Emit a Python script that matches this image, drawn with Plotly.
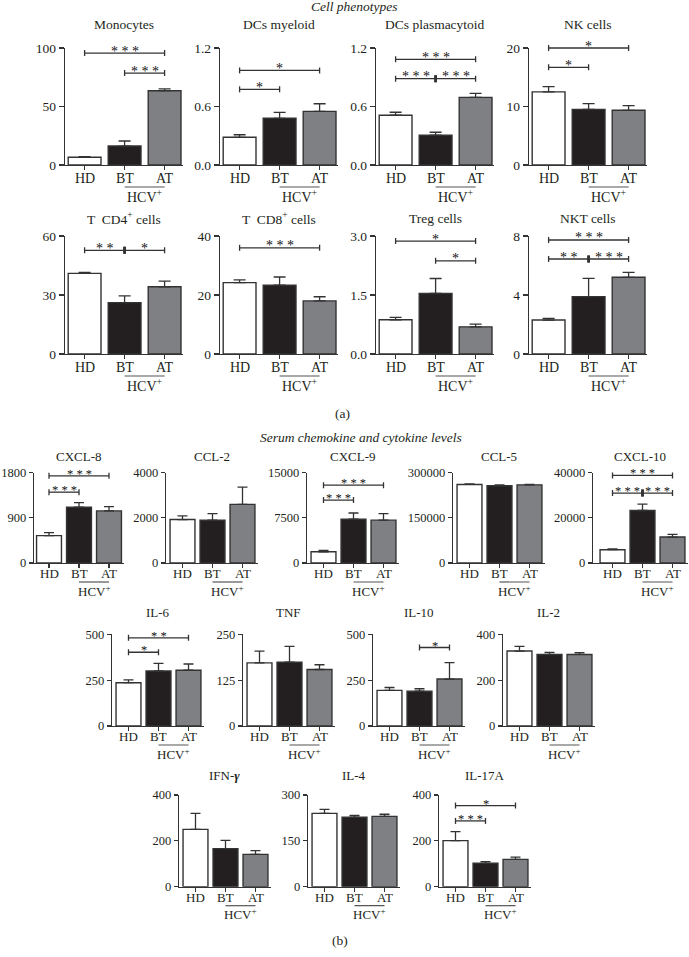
import plotly.graph_objects as go

W, H = 689, 957
FONT = "Liberation Serif"
INK = "#333333"
TXT = "#231f20"
BAR_COLORS = ["#ffffff", "#231f20", "#7f8083"]
groups = ["HD", "BT", "AT"]

# ---------------- (a) Cell phenotypes ----------------
monocytes = [6.6, 16.2, 63.5]
monocytes_err = [0.5, 4.3, 1.5]
monocytes_sig = [(0, 2, 95.7, "***"), (1, 2, 78.6, "***")]

dc_myeloid = [0.284, 0.479, 0.55]
dc_myeloid_err = [0.026, 0.061, 0.078]
dc_myeloid_sig = [(0, 2, 0.97, "*"), (0, 1, 0.776, "*")]

dc_plasma = [0.51, 0.305, 0.694]
dc_plasma_err = [0.031, 0.031, 0.041]
dc_plasma_sig = [(0, 2, 1.084, "***"), (0, 1, 0.885, "***"), (1, 2, 0.885, "***")]

nk = [12.5, 9.5, 9.35]
nk_err = [0.9, 1.0, 0.8]
nk_sig = [(0, 2, 20.0, "*"), (0, 1, 16.7, "*")]

cd4 = [41.0, 26.1, 34.2]
cd4_err = [0.5, 3.5, 2.9]
cd4_sig = [(0, 1, 52.7, "**"), (1, 2, 52.7, "*")]

cd8 = [24.2, 23.3, 18.0]
cd8_err = [0.9, 2.8, 1.4]
cd8_sig = [(0, 2, 36.0, "***")]

treg = [0.87, 1.54, 0.69]
treg_err = [0.06, 0.38, 0.07]
treg_sig = [(0, 2, 2.87, "*"), (1, 2, 2.37, "*")]

nkt = [2.3, 3.89, 5.2]
nkt_err = [0.12, 1.24, 0.34]
nkt_sig = [(0, 2, 7.73, "***"), (0, 1, 6.44, "**"), (1, 2, 6.44, "***")]

# ---------------- (b) Serum chemokines / cytokines ----------------
cxcl8 = [544, 1110, 1036]
cxcl8_err = [60, 92, 86]
cxcl8_sig = [(0, 2, 1734, "***"), (0, 1, 1409, "***")]

ccl2 = [1921, 1890, 2593]
ccl2_err = [158, 295, 761]
ccl2_sig = []

cxcl9 = [1863, 7250, 7100]
cxcl9_err = [227, 1040, 1100]
cxcl9_sig = [(0, 2, 12900, "***"), (0, 1, 10430, "***")]

ccl5 = [260400, 256000, 259000]
ccl5_err = [1500, 2500, 1500]
ccl5_sig = []

cxcl10 = [5870, 23200, 11480]
cxcl10_err = [310, 2800, 1150]
cxcl10_sig = [(0, 2, 38700, "***"), (0, 1, 30900, "***"), (1, 2, 30900, "***")]

il6 = [236, 300, 304]
il6_err = [15, 42, 34]
il6_sig = [(0, 2, 481, "**"), (0, 1, 402, "*")]

tnf = [172, 174, 154]
tnf_err = [32, 43, 13]
tnf_sig = []

il10 = [194, 190, 256]
il10_err = [16, 13, 90]
il10_sig = [(1, 2, 428, "*")]

il2 = [327, 312, 312]
il2_err = [20, 9, 8]
il2_sig = []

ifng = [250, 166, 141]
ifng_err = [70, 36, 16]
ifng_sig = []

il4 = [240, 227, 230]
il4_err = [13, 6, 7]
il4_sig = []

il17a = [201, 102, 119]
il17a_err = [39, 7, 10]
il17a_sig = [(0, 2, 354, "*"), (0, 1, 287, "***")]

# y-axis ticks (value, label)
ticks_monocytes = ([0, 50, 100], ["0", "50", "100"])
ticks_dc = ([0, 0.6, 1.2], ["0.0", "0.6", "1.2"])
ticks_nk = ([0, 10, 20], ["0", "10", "20"])
ticks_cd4 = ([0, 30, 60], ["0", "30", "60"])
ticks_cd8 = ([0, 20, 40], ["0", "20", "40"])
ticks_treg = ([0, 1.5, 3.0], ["0.0", "1.5", "3.0"])
ticks_nkt = ([0, 4, 8], ["0", "4", "8"])
ticks_cxcl8 = ([0, 900, 1800], ["0", "900", "1800"])
ticks_ccl2 = ([0, 2000, 4000], ["0", "2000", "4000"])
ticks_cxcl9 = ([0, 7500, 15000], ["0", "7500", "15000"])
ticks_ccl5 = ([0, 150000, 300000], ["0", "150000", "300000"])
ticks_cxcl10 = ([0, 20000, 40000], ["0", "20000", "40000"])
ticks_il6 = ([0, 250, 500], ["0", "250", "500"])
ticks_tnf = ([0, 125, 250], ["0", "125", "250"])
ticks_il10 = ([0, 250, 500], ["0", "250", "500"])
ticks_il2 = ([0, 200, 400], ["0", "200", "400"])
ticks_ifng = ([0, 200, 400], ["0", "200", "400"])
ticks_il4 = ([0, 150, 300], ["0", "150", "300"])
ticks_il17a = ([0, 200, 400], ["0", "200", "400"])

# ---------------- layout geometry (pixels) ----------------
# rows: (top_px, bottom_px, title_px)
ROW_A1 = (48, 165, 25)
ROW_A2 = (236, 354, 219)
ROW_B1 = (472.5, 563, 456)
ROW_B2 = (634.3, 726, 612)
ROW_B3 = (795, 886.7, 775)

A = dict(step=40, left=-0.49, right=2.47, bw=0.82, tick=13.5, ticklen=5, cat=14, title=13.5, star=14,
         capw=6, cat_dy=13.5, lab_dy=22, hcv_dy=30.5, star_dy=2)
B = dict(step=30, left=-0.55, right=2.5, bw=0.83, tick=12.5, ticklen=4, cat=13, title=13, star=12.5,
         capw=5, cat_dy=10.5, lab_dy=19, hcv_dy=27.5, star_dy=2)

panels = [
    ("Monocytes", monocytes, monocytes_err, monocytes_sig, ticks_monocytes, 65, ROW_A1, A, None),
    ("DCs myeloid", dc_myeloid, dc_myeloid_err, dc_myeloid_sig, ticks_dc, 220, ROW_A1, A, None),
    ("DCs plasmacytoid", dc_plasma, dc_plasma_err, dc_plasma_sig, ticks_dc, 376, ROW_A1, A, None),
    ("NK cells", nk, nk_err, nk_sig, ticks_nk, 529, ROW_A1, A, None),
    ("T  CD4<sup>+</sup> cells", cd4, cd4_err, cd4_sig, ticks_cd4, 65, ROW_A2, A, None),
    ("T  CD8<sup>+</sup> cells", cd8, cd8_err, cd8_sig, ticks_cd8, 220, ROW_A2, A, None),
    ("Treg cells", treg, treg_err, treg_sig, ticks_treg, 376, ROW_A2, A, None),
    ("NKT cells", nkt, nkt_err, nkt_sig, ticks_nkt, 529, ROW_A2, A, None),
    ("CXCL-8", cxcl8, cxcl8_err, cxcl8_sig, ticks_cxcl8, 34, ROW_B1, B, -0.5),
    ("CCL-2", ccl2, ccl2_err, ccl2_sig, ticks_ccl2, 166, ROW_B1, B, None),
    ("CXCL-9", cxcl9, cxcl9_err, cxcl9_sig, ticks_cxcl9, 307, ROW_B1, B, None),
    ("CCL-5", ccl5, ccl5_err, ccl5_sig, ticks_ccl5, 453, ROW_B1, B, None),
    ("CXCL-10", cxcl10, cxcl10_err, cxcl10_sig, ticks_cxcl10, 593, ROW_B1, B, -0.65),
    ("IL-6", il6, il6_err, il6_sig, ticks_il6, 112, ROW_B2, B, None),
    ("TNF", tnf, tnf_err, tnf_sig, ticks_tnf, 243, ROW_B2, B, None),
    ("IL-10", il10, il10_err, il10_sig, ticks_il10, 373, ROW_B2, B, None),
    ("IL-2", il2, il2_err, il2_sig, ticks_il2, 503, ROW_B2, B, None),
    ("IFN-<b><i>γ</i></b>", ifng, ifng_err, ifng_sig, ticks_ifng, 179, ROW_B3, B, None),
    ("IL-4", il4, il4_err, il4_sig, ticks_il4, 308, ROW_B3, B, None),
    ("IL-17A", il17a, il17a_err, il17a_sig, ticks_il17a, 439, ROW_B3, B, None),
]

fig = go.Figure()
layout = dict(
    width=W, height=H, margin=dict(l=0, r=0, t=0, b=0, autoexpand=False),
    paper_bgcolor="white", plot_bgcolor="white", showlegend=False,
    font=dict(family=FONT, color=TXT),
)
shapes, annotations = [], []

for k, (title, vals, errs, sigs, (tv, tt), axpx, row, S, left) in enumerate(panels, start=1):
    xa = "x" if k == 1 else f"x{k}"
    ya = "y" if k == 1 else f"y{k}"
    xl = S["left"] if left is None else left
    wpx = (S["right"] - xl) * S["step"]
    top_px, bot_px, title_px = row
    ymax = tv[-1]

    fig.add_trace(go.Bar(
        x=[0, 1, 2], y=vals, width=S["bw"],
        marker=dict(color=BAR_COLORS, line=dict(color=INK, width=1.4)),
        error_y=dict(type="data", array=errs, arrayminus=[0, 0, 0], symmetric=False,
                     color=INK, thickness=1.3, width=S["capw"]),
        xaxis=xa, yaxis=ya, hoverinfo="skip",
    ))

    layout["xaxis" if k == 1 else f"xaxis{k}"] = dict(
        domain=[axpx / W, (axpx + wpx) / W], anchor=ya, range=[xl, S["right"]],
        tickmode="array", tickvals=[0, 1, 2], showticklabels=False, automargin=False,
        showline=True, linecolor=INK, linewidth=1.3, ticks="outside", ticklen=4,
        tickwidth=1.2, tickcolor=INK, showgrid=False, zeroline=False, fixedrange=True,
    )
    layout["yaxis" if k == 1 else f"yaxis{k}"] = dict(
        domain=[1 - bot_px / H, 1 - top_px / H], anchor=xa, range=[0, ymax],
        tickmode="array", tickvals=tv, ticktext=tt, automargin=False,
        showline=True, linecolor=INK, linewidth=1.3, ticks="outside", ticklen=S["ticklen"],
        tickwidth=1.2, tickcolor=INK, showgrid=False, zeroline=False,
        tickfont=dict(family=FONT, size=S["tick"], color=TXT), fixedrange=True,
    )

    # category labels
    for ci, g in enumerate(groups):
        annotations.append(dict(text=g, xref=xa, yref="paper", x=ci, y=1 - (bot_px + S["cat_dy"]) / H,
                                showarrow=False, xanchor="center", yanchor="middle",
                                font=dict(family=FONT, size=S["cat"], color=TXT)))
    # panel title
    annotations.append(dict(text=title, xref=f"{xa} domain", yref="paper", x=0.5, y=1 - title_px / H,
                            showarrow=False, xanchor="center", yanchor="middle",
                            font=dict(family=FONT, size=S["title"], color=TXT)))
    # HCV+ group label with line
    shapes.append(dict(type="line", xref=xa, yref="paper", x0=1, x1=2,
                       y0=1 - (bot_px + S["lab_dy"]) / H, y1=1 - (bot_px + S["lab_dy"]) / H,
                       line=dict(color="#555555", width=1.2)))
    annotations.append(dict(text="HCV<sup>+</sup>", xref=xa, yref="paper", x=1.5,
                            y=1 - (bot_px + S["hcv_dy"]) / H, showarrow=False,
                            xanchor="center", yanchor="middle",
                            font=dict(family=FONT, size=S["cat"], color=TXT)))

    # significance brackets
    ys_all = [s[2] for s in sigs]
    for (i, j, v, stars) in sigs:
        yd = v / ymax
        shapes.append(dict(type="line", xref=xa, yref=f"{ya} domain", x0=i, x1=j, y0=yd, y1=yd,
                           line=dict(color=INK, width=1.3)))
        for e in (i, j):
            split = e == 1 and ys_all.count(v) > 1
            shapes.append(dict(type="line", xref=xa, yref=f"{ya} domain", x0=e, x1=e,
                               ysizemode="pixel", yanchor=yd,
                               y0=-3.5 if split else -3, y1=3.5 if split else 3,
                               line=dict(color=INK, width=2.6 if split else 1.3)))
        annotations.append(dict(text=" ".join(stars), xref=xa, yref=ya, x=(i + j) / 2, y=v,
                                showarrow=False, xanchor="center", yanchor="middle",
                                yshift=S["star_dy"],
                                font=dict(family=FONT, size=S["star"], color="#111111")))

# section labels
for txt, xp, yp in [("<i>Cell phenotypes</i>", 354, 6), ("(a)", 342, 413),
                    ("<i>Serum chemokine and cytokine levels</i>", 361, 437), ("(b)", 340, 940)]:
    annotations.append(dict(text=txt, xref="paper", yref="paper", x=xp / W, y=1 - yp / H,
                            showarrow=False, xanchor="center", yanchor="middle",
                            font=dict(family=FONT, size=13.5, color=TXT)))

layout["shapes"] = shapes
layout["annotations"] = annotations
fig.update_layout(**layout)
fig.write_html("out.html", config={"displayModeBar": False, "staticPlot": True},
               post_script="document.body.style.margin='0px';document.body.style.padding='0px';")
